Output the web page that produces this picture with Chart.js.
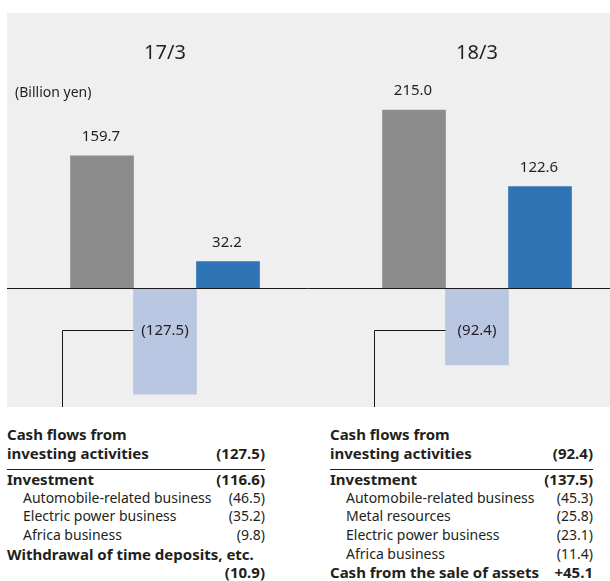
<!DOCTYPE html>
<html>
<head>
<meta charset="utf-8">
<script src="https://cdn.jsdelivr.net/npm/chart.js@4.4.1/dist/chart.umd.min.js"></script>
<style>
html,body{margin:0;padding:0;background:#fff;}
#wrap{position:relative;width:610px;height:581px;overflow:hidden;font-family:"Noto Sans",sans-serif;color:#231f20;}
#c{position:absolute;left:0;top:0;}
.tbl{position:absolute;top:425px;}
.row{display:flex;justify-content:space-between;white-space:nowrap;height:18.7px;line-height:18.7px;font-size:14px;}
.b{font-weight:bold;font-size:15px;}
.ind{padding-left:16px;}
.sep{border-top:1.3px solid #231f20;margin-top:6.5px;}
</style>
</head>
<body>
<div id="wrap">
<canvas id="c" width="610" height="410"></canvas>
<div class="tbl" style="left:7px;width:258px;">
  <div class="row b"><span>Cash flows from</span><span></span></div>
  <div class="row b"><span>investing activities</span><span>(127.5)</span></div>
  <div class="sep"></div>
  <div class="row b"><span>Investment</span><span>(116.6)</span></div>
  <div class="row"><span class="ind">Automobile-related business</span><span>(46.5)</span></div>
  <div class="row"><span class="ind">Electric power business</span><span>(35.2)</span></div>
  <div class="row"><span class="ind">Africa business</span><span>(9.8)</span></div>
  <div class="row b"><span>Withdrawal of time deposits, etc.</span><span></span></div>
  <div class="row b"><span></span><span>(10.9)</span></div>
</div>
<div class="tbl" style="left:330px;width:263px;">
  <div class="row b"><span>Cash flows from</span><span></span></div>
  <div class="row b"><span>investing activities</span><span>(92.4)</span></div>
  <div class="sep"></div>
  <div class="row b"><span>Investment</span><span>(137.5)</span></div>
  <div class="row"><span class="ind">Automobile-related business</span><span>(45.3)</span></div>
  <div class="row"><span class="ind">Metal resources</span><span>(25.8)</span></div>
  <div class="row"><span class="ind">Electric power business</span><span>(23.1)</span></div>
  <div class="row"><span class="ind">Africa business</span><span>(11.4)</span></div>
  <div class="row b"><span>Cash from the sale of assets</span><span>+45.1</span></div>
</div>
</div>
<script>
const categories = ['17/3', '18/3'];
const operatingCF = [159.7, 215.0];
const investingCF = [-127.5, -92.4];
const freeCF = [32.2, 122.6];
const unitLabel = '(Billion yen)';
const connectorLabelValue = -50;

const FONT = '"Noto Sans", sans-serif';
const TEXT = '#231f20';

const overlay = {
  id: 'overlay',
  beforeDraw(chart) {
    const {ctx, chartArea} = chart;
    ctx.save();
    ctx.fillStyle = '#efefef';
    ctx.fillRect(7, chartArea.top, chart.width - 7, chartArea.bottom - chartArea.top);
    ctx.restore();
  },
  afterDatasetsDraw(chart) {
    const {ctx, chartArea, scales: {x, y}} = chart;
    const y0 = Math.round(y.getPixelForValue(0)) + 0.5;
    ctx.save();
    ctx.strokeStyle = '#1a1a1a';
    ctx.lineWidth = 1;
    ctx.beginPath();
    ctx.moveTo(7, y0);
    ctx.lineTo(chart.width, y0);
    ctx.stroke();

    ctx.fillStyle = TEXT;
    ctx.textAlign = 'center';
    ctx.textBaseline = 'middle';
    ctx.font = '20px ' + FONT;
    categories.forEach((c, i) => ctx.fillText(c, x.getPixelForValue(i), chartArea.top + 40));

    ctx.font = '14px ' + FONT;
    ctx.textAlign = 'left';
    ctx.fillText(unitLabel, 15, 93);

    ctx.textAlign = 'center';
    ctx.font = '15px ' + FONT;
    [0, 2].forEach(di => {
      chart.getDatasetMeta(di).data.forEach((bar, i) => {
        ctx.fillText(chart.data.datasets[di].data[i].toFixed(1), bar.x - 1, bar.y - 19);
      });
    });

    const yl = Math.round(y.getPixelForValue(connectorLabelValue)) + 0.5;
    const gMeta = chart.getDatasetMeta(0);
    const iMeta = chart.getDatasetMeta(1);
    iMeta.data.forEach((bar, i) => {
      ctx.fillText('(' + Math.abs(investingCF[i]).toFixed(1) + ')', bar.x, yl);
      const left = bar.x - bar.width / 2;
      const g = gMeta.data[i];
      const gx = Math.round(g.x - g.width / 2 - 9) + 0.5;
      ctx.beginPath();
      ctx.moveTo(left, yl);
      ctx.lineTo(gx, yl);
      ctx.lineTo(gx, chartArea.bottom);
      ctx.stroke();
    });
    ctx.restore();
  }
};

new Chart(document.getElementById('c'), {
  type: 'bar',
  data: {
    labels: categories,
    datasets: [
      {label: 'Operating', data: operatingCF, backgroundColor: '#8c8c8c'},
      {label: 'Investing', data: investingCF, backgroundColor: '#bac7e3'},
      {label: 'Free', data: freeCF, backgroundColor: '#2e73b3'}
    ]
  },
  options: {
    responsive: false,
    animation: false,
    devicePixelRatio: 1,
    layout: {padding: {left: 165, right: 133, top: 13, bottom: 3}},
    datasets: {bar: {barThickness: 63, borderWidth: 0, clip: false}},
    plugins: {legend: {display: false}, tooltip: {enabled: false}},
    scales: {
      x: {display: false, offset: false},
      y: {display: false, min: -143, max: 332}
    }
  },
  plugins: [overlay]
});
</script>
</body>
</html>
